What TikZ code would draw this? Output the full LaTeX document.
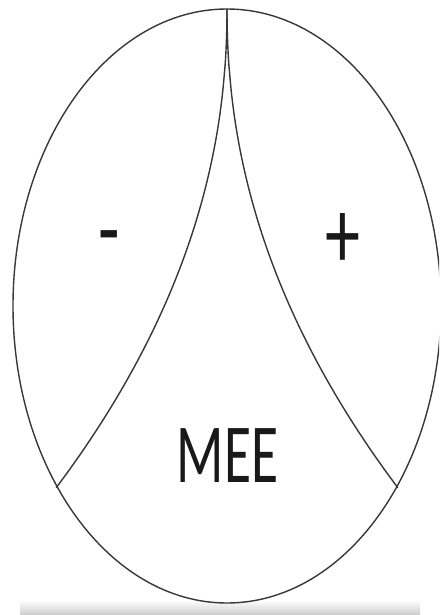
\documentclass[tikz,border=0pt]{standalone}
\usepackage{fontspec}
\setmainfont{Carlito}
\begin{document}
\begin{tikzpicture}[x=1pt,y=-1pt,
  outline/.style={draw=black!78, line width=1.4pt},
  lbl/.style={inner sep=0pt, anchor=base, text=black!90}]
\useasboundingbox (0,0) rectangle (439,615);
\clip (0,0) rectangle (439,615);
\fill[white] (0,0) rectangle (439,615);
\shade[top color=white, bottom color=black!20] (20,600) rectangle (420,615);
\coordinate (top) at (227,9);
\coordinate (bl) at (56,488);
\coordinate (br) at (398,488);
\draw[outline] (227,306) ellipse [x radius=214, y radius=297];
\draw[outline] (top) -- plot[domain=0.005:1, samples=80] ({227-171*(\x)^2.1}, {9+479*\x});
\draw[outline] (top) -- plot[domain=0.005:1, samples=80] ({227+171*(\x)^2.1}, {9+479*\x});
\node[lbl] (minus) at (109,262) {\scalebox{0.7}[1]{\fontsize{100}{100}\selectfont -}};
\node[lbl] (plus) at (343,268) {\scalebox{0.7}[1]{\fontsize{100}{100}\selectfont +}};
\node[lbl] (mee) at (227.5,482) {\scalebox{0.66}[1]{\fontsize{84}{84}\selectfont MEE}};
\end{tikzpicture}
\end{document}
